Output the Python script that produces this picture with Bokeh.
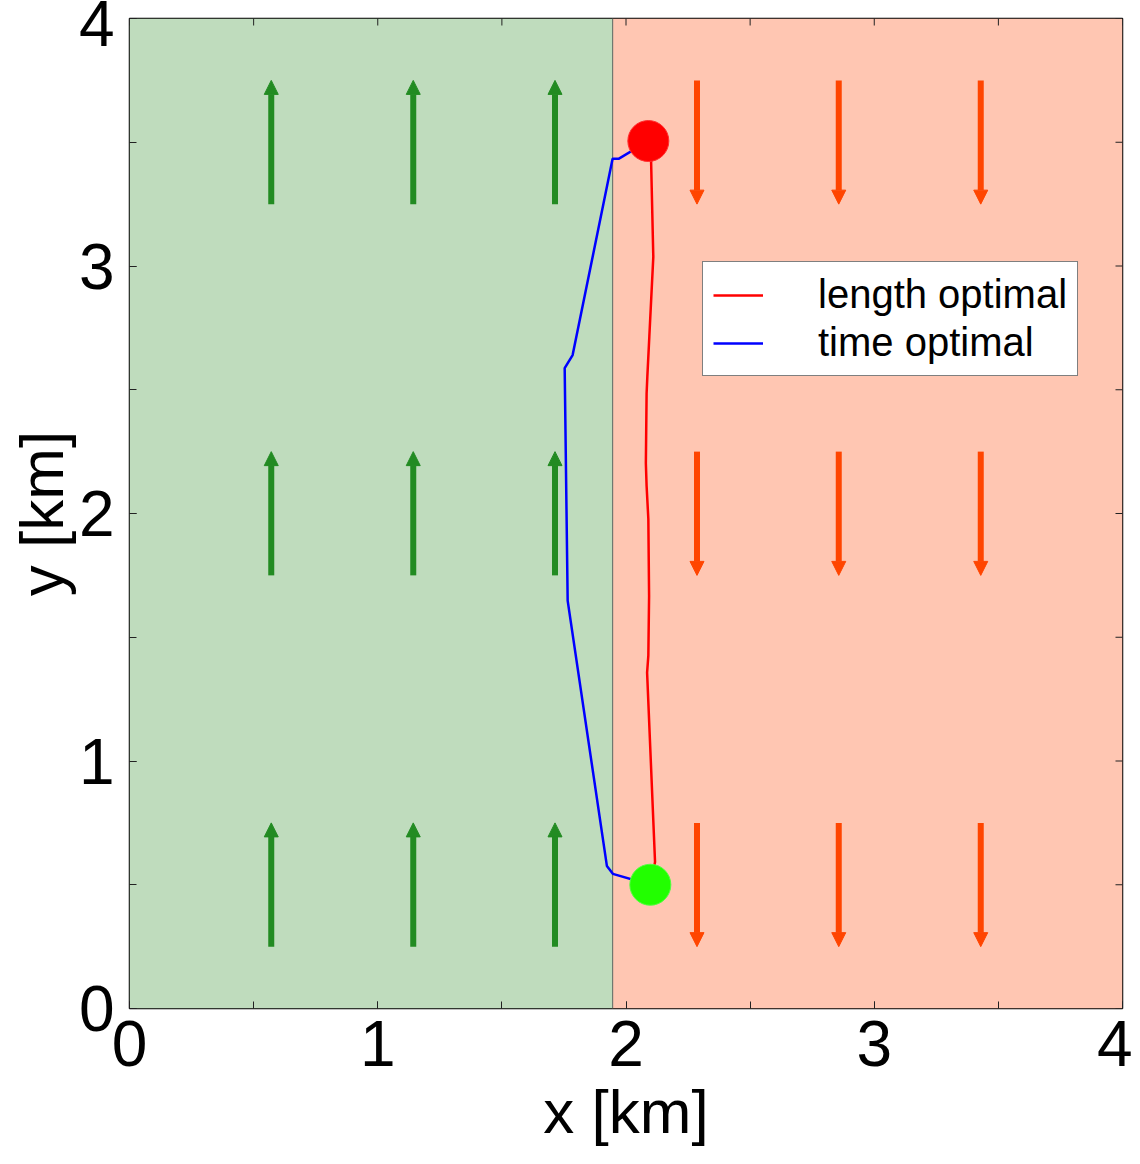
import math
from bokeh.plotting import figure
from bokeh.models import (ColumnDataSource, Arrow, NormalHead,
                          SingleIntervalTicker, Range1d)
from bokeh.embed import file_html
from bokeh.resources import INLINE

# ---------------- data ----------------
x_limits = [0, 4]
y_limits = [0, 4]
boundary_x = 1.946                      # edge between the two current bands [km]
grid_x = [0.571, 1.143, 1.714, 2.286, 2.857, 3.429]
grid_y = [0.5, 2.0, 3.5]
flow_v = [1, 1, 1, -1, -1, -1]          # current direction in each column (+ up, - down)
arrow_len = 0.5

start_pt = [2.098, 0.500]
goal_pt = [2.090, 3.505]

length_x = [2.098, 2.117, 2.085, 2.090, 2.093, 2.090, 2.083, 2.080, 2.083,
            2.086, 2.094, 2.110, 2.101, 2.090]
length_y = [0.500, 0.592, 1.357, 1.426, 1.668, 1.978, 2.111, 2.203, 2.485,
            2.554, 2.715, 3.037, 3.428, 3.505]
time_x = [2.098, 1.947, 1.923, 1.765, 1.753, 1.785, 1.946, 1.970, 2.090]
time_y = [0.500, 0.544, 0.576, 1.648, 2.587, 2.640, 3.433, 3.433, 3.505]

edge_tick_values = [0, 0.5, 1, 1.5, 2, 2.5, 3, 3.5, 4]

FONT = "Liberation Sans"
GREEN_BG = "#bfdcbd"
RED_BG = "#ffc6b2"
GREEN_ARROW = "#228b22"
RED_ARROW = "#ff4500"
TICK_COLOR = "#222222"

# ---------------- figure ----------------
p = figure(frame_width=993, frame_height=990,
           x_range=Range1d(*x_limits), y_range=Range1d(*y_limits),
           output_backend="svg", toolbar_location=None,
           min_border_left=129, min_border_right=10, min_border_top=18,
           min_border_bottom=10, background_fill_color="white",
           border_fill_color="white")
p.xgrid.visible = False
p.ygrid.visible = False
p.outline_line_color = "black"
p.outline_line_width = 1.5

# background bands
p.quad(left=[x_limits[0]], right=[boundary_x], bottom=[y_limits[0]], top=[y_limits[1]],
       fill_color=GREEN_BG, line_color=None)
p.quad(left=[boundary_x], right=[x_limits[1]], bottom=[y_limits[0]], top=[y_limits[1]],
       fill_color=RED_BG, line_color=None)
p.line([boundary_x, boundary_x], y_limits, line_color="#707870", line_width=1.2)

# current arrows
for colour, sign in ((GREEN_ARROW, 1), (RED_ARROW, -1)):
    xs0, ys0, xs1, ys1 = [], [], [], []
    for gx, v in zip(grid_x, flow_v):
        if v != sign:
            continue
        for gy in grid_y:
            xs0.append(gx)
            xs1.append(gx)
            ys0.append(gy - v * arrow_len / 2)
            ys1.append(gy + v * arrow_len / 2)
    src = ColumnDataSource(dict(x0=xs0, y0=ys0, x1=xs1, y1=ys1))
    p.add_layout(Arrow(source=src, x_start="x0", y_start="y0", x_end="x1", y_end="y1",
                       line_color=colour, line_width=6,
                       end=NormalHead(size=14, fill_color=colour, line_color=colour,
                                      line_width=1)))

# paths
p.line(length_x, length_y, line_color="red", line_width=2.5, legend_label="length optimal")
p.line(time_x, time_y, line_color="blue", line_width=2.5, legend_label="time optimal")

# start / goal
p.scatter([goal_pt[0]], [goal_pt[1]], size=41, fill_color="#ff0000",
          line_color="#ff3030", line_width=1)
p.scatter([start_pt[0]], [start_pt[1]], size=41, fill_color="#22ff00",
          line_color="#50ff40", line_width=1)

# inward ticks on the top and right edges (half of each dash is clipped by the frame)
p.scatter(edge_tick_values, [y_limits[1]] * len(edge_tick_values), marker="dash",
          size=14, angle=math.pi / 2, line_color=TICK_COLOR, line_width=1)
p.scatter([x_limits[1]] * len(edge_tick_values), edge_tick_values, marker="dash",
          size=14, angle=0, line_color=TICK_COLOR, line_width=1)

# ---------------- axes ----------------
for ax in (p.xaxis[0], p.yaxis[0]):
    ax.ticker = SingleIntervalTicker(interval=1, num_minor_ticks=2)
    ax.major_tick_in = 7
    ax.major_tick_out = 0
    ax.minor_tick_in = 7
    ax.minor_tick_out = 0
    ax.major_tick_line_color = TICK_COLOR
    ax.minor_tick_line_color = TICK_COLOR
    ax.axis_line_color = None
    ax.major_label_text_font = FONT
    ax.major_label_text_font_size = "64px"
    ax.major_label_text_color = "black"
    ax.axis_label_text_font = FONT
    ax.axis_label_text_font_size = "62px"
    ax.axis_label_text_font_style = "normal"
    ax.axis_label_text_color = "black"

p.xaxis[0].axis_label = "x [km]"
p.yaxis[0].axis_label = "y [km]"
p.xaxis[0].major_label_standoff = 12
p.xaxis[0].axis_label_standoff = 8
p.yaxis[0].major_label_standoff = 15
p.yaxis[0].axis_label_standoff = 0

# ---------------- legend ----------------
lg = p.legend[0]
lg.location = (573, 632)
lg.label_text_font = FONT
lg.label_text_font_size = "40px"
lg.label_text_color = "black"
lg.glyph_width = 50
lg.label_standoff = 55
lg.padding = 10
lg.spacing = 3
lg.margin = 0
lg.border_line_color = "black"
lg.border_line_width = 1.2
lg.background_fill_color = "white"
lg.background_fill_alpha = 1.0

open("out.html", "w").write(file_html(p, INLINE))
